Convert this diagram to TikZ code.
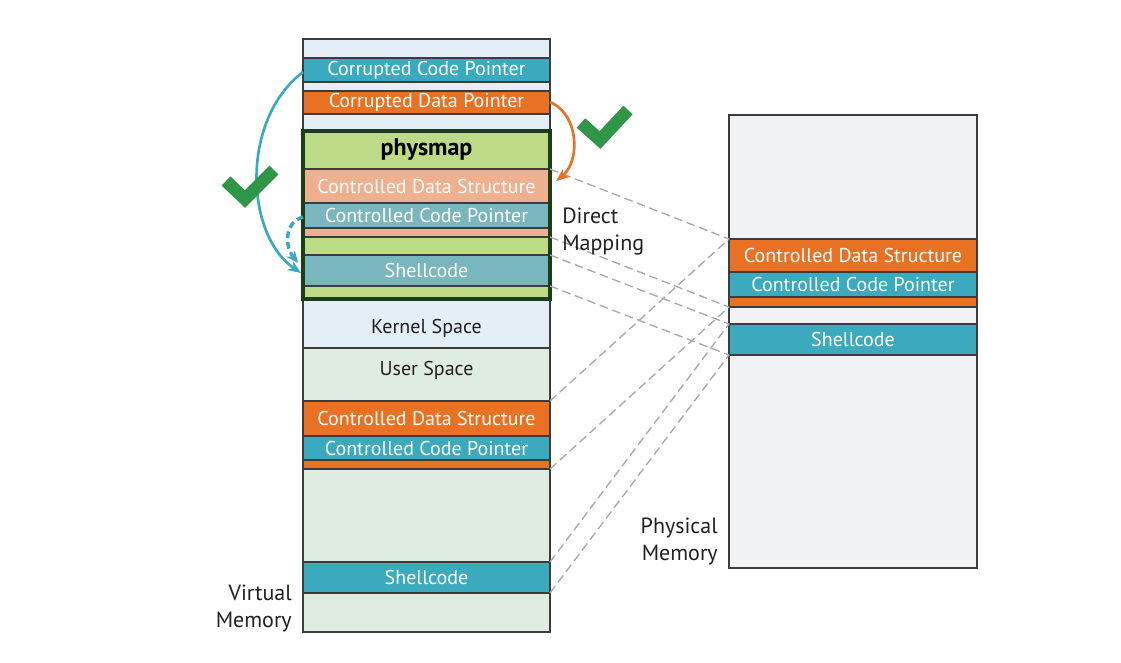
\documentclass[tikz,border=0pt]{standalone}
\usepackage{fontspec}
\setmainfont{PT Sans}
\usetikzlibrary{arrows.meta}
\definecolor{kernelc}{HTML}{E3EEF6}
\definecolor{tealc}{HTML}{3BA9BE}
\definecolor{orangec}{HTML}{E97123}
\definecolor{physg}{HTML}{BDDA87}
\definecolor{salmonc}{HTML}{EEB08F}
\definecolor{mtealc}{HTML}{7AB6BE}
\definecolor{userc}{HTML}{DFECE2}
\definecolor{greyc}{HTML}{F1F2F4}
\definecolor{borderc}{HTML}{3C3C3C}
\definecolor{dgreen}{HTML}{1B3D17}
\definecolor{checkc}{HTML}{2E9646}
\definecolor{dashc}{HTML}{A8A8A8}
\definecolor{textc}{HTML}{231F20}
\newcommand\mband[7]{%
  \pgfmathsetmacro\mbw{(#3-#2)*0.75}%
  \pgfmathsetmacro\mbh{(#5-#4)*0.75}%
  \node[band,#6,minimum width=\mbw pt,minimum height=\mbh pt] (#1) at ({(#2+#3)/2},{(#4+#5)/2}) {#7};%
}
\begin{document}
\begin{tikzpicture}[x=0.75pt,y=-0.75pt,
  band/.style={draw=borderc,line width=1.1pt,inner sep=0pt,outer sep=0pt,text=white,
    font=\fontsize{15}{18}\selectfont},
  kern/.style={fill=kernelc},
  teal/.style={fill=tealc},
  orng/.style={fill=orangec},
  pgreen/.style={fill=physg},
  salm/.style={fill=salmonc},
  mteal/.style={fill=mtealc},
  usr/.style={fill=userc},
  gry/.style={fill=greyc},
  dark/.style={text=textc},
  maplink/.style={draw=dashc,line width=1pt,dash pattern=on 6.5pt off 3.5pt},
  label/.style={text=textc,font=\fontsize{16.5}{20.25}\selectfont,inner sep=0pt},
  checkmark/.style={draw=checkc,line width=9.5pt,line join=miter,line cap=butt},
]
\useasboundingbox (0,0) rectangle (1121,662);
% ---------- virtual memory column ----------
\mband{k1}{303}{550}{39}{58}{kern}{}
\mband{ccp}{303}{550}{58}{82}{teal}{Corrupted Code Pointer}
\mband{k2}{303}{550}{82}{91}{kern}{}
\mband{cdp}{303}{550}{91}{114}{orng}{Corrupted Data Pointer}
\mband{k3}{303}{550}{114}{131}{kern}{}
\mband{pm}{303}{550}{131}{169}{pgreen,text=black,font=\fontsize{18}{20}\selectfont}{\bfseries physmap}
\mband{pcds}{303}{550}{169}{203}{salm}{Controlled Data Structure}
\mband{pccp}{303}{550}{203}{228}{mteal}{Controlled Code Pointer}
\mband{pthin}{303}{550}{228}{237}{salm}{}
\mband{pg1}{303}{550}{237}{255}{pgreen}{}
\mband{psh}{303}{550}{255}{286}{mteal}{Shellcode}
\mband{pg2}{303}{550}{286}{299}{pgreen}{}
\mband{ks}{303}{550}{299}{348}{kern,dark,text height=15.5pt,text depth=0pt}{Kernel Space}
\mband{us}{303}{550}{348}{401}{usr,dark,text height=4pt,text depth=3pt}{User Space}
\mband{ucds}{303}{550}{401}{436}{orng}{Controlled Data Structure}
\mband{uccp}{303}{550}{436}{460}{teal}{Controlled Code Pointer}
\mband{uthin}{303}{550}{460}{469}{orng}{}
\mband{ug1}{303}{550}{469}{562}{usr}{}
\mband{ush}{303}{550}{562}{593}{teal}{Shellcode}
\mband{ug2}{303}{550}{593}{632}{usr}{}
% physmap outline
\draw[dgreen,line width=2.6pt] (pm.north west) rectangle (pg2.south east);
% ---------- physical memory column ----------
\mband{r1}{729}{977}{115}{239}{gry}{}
\mband{rcds}{729}{977}{239}{272}{orng}{Controlled Data Structure}
\mband{rccp}{729}{977}{272}{297}{teal}{Controlled Code Pointer}
\mband{rthin}{729}{977}{297}{307}{orng}{}
\mband{r2}{729}{977}{307}{324}{gry}{}
\mband{rsh}{729}{977}{324}{355}{teal}{Shellcode}
\mband{r3}{729}{977}{355}{568}{gry}{}
% ---------- mapping lines ----------
\draw[maplink] (pcds.north east) -- (rcds.north west);
\draw[maplink] (pthin.south east) -- (rthin.south west);
\draw[maplink] (psh.north east) -- (rsh.north west);
\draw[maplink] (psh.south east) -- (rsh.south west);
\draw[maplink] (ucds.north east) -- (rcds.north west);
\draw[maplink] (uthin.south east) -- (rthin.south west);
\draw[maplink] (ush.north east) -- (rsh.north west);
\draw[maplink] (ush.south east) -- (rsh.south west);
% ---------- labels ----------
\node[label,anchor=west,align=left] (dm) at (562,231.5) {Direct\\Mapping};
\node[label,anchor=east,align=right] (pmem) at (718,541.5) {Physical\\Memory};
\node[label,anchor=east,align=right] (vmem) at (292,608) {Virtual\\Memory};
% ---------- arrows ----------
\coordinate (ta) at (303,72);
\coordinate (tb) at (301,273);
\draw[tealc,line width=2pt,-{Stealth[length=10pt,width=8pt]}]
  (ta) .. controls (240,120) and (245,235) .. (tb);
\coordinate (da) at (303,217);
\coordinate (db) at (298,263);
\draw[tealc,line width=2.6pt,dash pattern=on 5pt off 3pt,-{Stealth[length=9pt,width=8pt]}]
  (da) .. controls (285,222) and (284,245) .. (db);
\coordinate (oa) at (550,102);
\coordinate (ob) at (556,181);
\draw[orangec,line width=2pt,-{Stealth[length=10pt,width=8pt]}]
  (oa) .. controls (580,115) and (580,162) .. (ob);
% ---------- check marks ----------
\coordinate (c1a) at (226,181);
\coordinate (c1b) at (245,199);
\coordinate (c1c) at (274,170);
\draw[checkmark] (c1a) -- (c1b) -- (c1c);
\coordinate (c2a) at (581,123);
\coordinate (c2b) at (600,140);
\coordinate (c2c) at (628,110);
\draw[checkmark] (c2a) -- (c2b) -- (c2c);
\end{tikzpicture}
\end{document}
